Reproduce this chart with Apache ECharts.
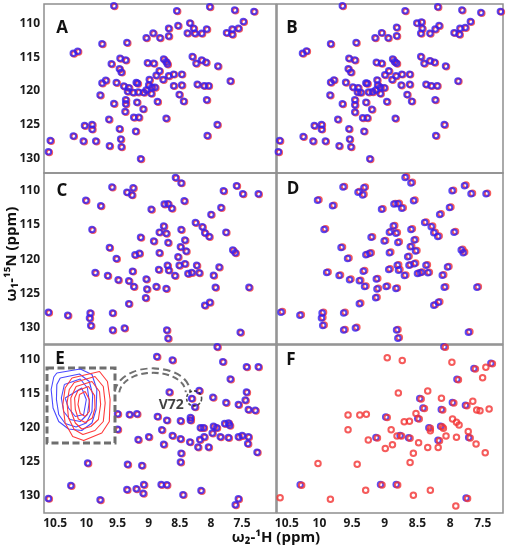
<!DOCTYPE html>
<html><head><meta charset="utf-8">
<script src="https://cdn.jsdelivr.net/npm/echarts@6/dist/echarts.min.js"></script>
<style>html,body{margin:0;padding:0;background:#fff}#c{width:508px;height:550px}</style>
</head><body><div id="c"></div>
<script>
// ---------- tick labels ----------
const xTicks = [10.5, 10, 9.5, 9, 8.5, 8, 7.5];
const yTicks = [110, 115, 120, 125, 130];
const panelLetters = ['A', 'B', 'C', 'D', 'E', 'F'];

// ---------- peak lists [1H ppm, 15N ppm] ----------
const peaksA = [[9.56,107.35],[8.55,108.1],[8.02,107.5],[7.62,108.0],[7.31,108.2],[9.35,112.8],[9.04,112.1],[8.93,111.4],[8.82,112.1],[8.68,110.7],[8.68,111.85],[8.53,110.3],[8.38,111.4],[8.34,109.9],[8.28,110.7],[8.26,111.45],[8.15,111.45],[8.07,110.8],[7.75,111.35],[7.66,110.8],[7.66,111.6],[7.56,110.7],[7.48,109.7],[10.21,114.4],[10.14,114.1],[9.75,113.0],[9.60,115.95],[9.46,115.15],[9.37,115.4],[9.47,116.7],[9.44,117.2],[9.02,115.8],[8.92,115.9],[8.76,115.25],[8.72,115.65],[8.70,116.0],[8.83,117.0],[8.88,117.65],[8.77,118.3],[8.68,117.75],[8.60,117.5],[8.47,117.5],[8.30,114.9],[8.24,115.9],[8.15,115.4],[8.08,115.75],[7.89,116.3],[9.75,118.8],[9.69,118.4],[9.52,118.75],[9.40,119.25],[9.32,119.5],[9.20,118.75],[9.18,118.85],[9.34,120.05],[9.25,120.2],[9.17,120.15],[9.08,120.2],[9.04,119.85],[9.00,119.1],[8.99,118.3],[8.95,119.45],[8.90,119.45],[8.96,120.35],[8.86,121.55],[9.78,120.6],[9.56,121.85],[9.37,121.3],[9.37,121.9],[9.19,121.65],[8.47,119.1],[8.60,119.2],[8.51,120.5],[8.44,121.5],[8.22,119.0],[8.11,119.2],[8.04,119.2],[8.07,121.3],[7.69,118.5],[9.38,123.05],[9.09,122.65],[9.24,123.9],[9.16,123.9],[8.72,124.05],[9.64,124.2],[10.03,125.1],[9.91,124.95],[9.91,125.65],[9.21,125.95],[9.47,125.6],[9.45,127.1],[10.21,126.65],[10.05,127.4],[9.85,127.4],[9.63,128.1],[9.44,128.25],[8.06,126.6],[7.90,124.95],[9.13,130.05],[10.58,127.35],[10.61,129.0]];

const peaksB = [[9.65,107.35],[8.69,108.1],[8.19,107.5],[7.82,108.0],[7.53,108.35],[7.23,108.2],[7.69,109.7],[8.51,109.9],[8.44,109.75],[8.43,110.7],[8.45,111.45],[8.31,111.45],[8.23,110.8],[8.17,110.3],[7.94,111.35],[7.85,110.7],[7.86,111.6],[7.77,110.6],[8.82,110.55],[8.82,111.8],[9.05,111.35],[9.15,112.1],[8.95,112.1],[9.44,112.8],[9.83,113.0],[10.26,114.4],[10.20,114.05],[9.55,115.15],[9.46,115.4],[9.56,116.7],[9.52,117.2],[9.13,115.75],[9.05,115.9],[8.88,115.25],[8.85,115.65],[8.82,115.9],[8.94,117.0],[9.00,117.6],[8.89,118.3],[8.83,117.75],[8.74,117.5],[8.62,117.5],[8.45,114.9],[8.40,115.9],[8.31,115.5],[8.24,115.75],[8.07,116.3],[9.83,118.7],[9.78,118.35],[9.60,118.7],[9.49,119.4],[9.41,119.5],[9.29,118.8],[9.27,118.85],[9.12,118.35],[9.42,120.15],[9.37,120.2],[9.25,120.15],[9.19,120.1],[9.14,119.85],[9.11,119.1],[9.07,119.45],[9.01,119.5],[9.07,120.35],[8.97,121.55],[9.84,120.6],[9.65,121.9],[9.46,121.3],[9.46,122.05],[9.29,121.65],[8.75,119.1],[8.62,119.0],[8.66,120.5],[8.59,121.5],[8.37,119.0],[8.29,119.2],[8.20,119.2],[8.23,121.3],[7.88,118.5],[9.46,123.1],[9.20,122.7],[9.34,123.95],[9.27,123.95],[8.84,124.05],[9.72,124.2],[10.08,125.1],[9.97,124.95],[9.97,125.65],[9.32,125.95],[9.55,125.6],[9.54,127.1],[10.25,126.75],[10.10,127.4],[9.91,127.4],[9.70,128.1],[9.52,128.25],[8.22,126.6],[8.09,124.95],[9.23,130.05],[10.61,127.35],[10.63,129.0]];

const peaksC = [[8.57,108.05],[8.48,108.85],[9.59,109.45],[9.35,110.2],[9.25,109.55],[9.27,110.6],[10.01,111.4],[9.77,112.2],[8.75,111.95],[8.69,111.9],[8.63,112.55],[8.43,111.45],[8.96,112.7],[7.80,110.0],[7.59,109.25],[7.49,110.45],[7.24,110.45],[7.84,112.45],[8.00,113.45],[8.76,115.15],[8.83,116.05],[8.72,116.2],[8.48,115.65],[8.25,114.65],[8.14,115.25],[8.10,116.15],[8.03,116.7],[7.76,116.05],[9.91,115.65],[9.13,116.8],[8.92,117.35],[8.69,117.55],[8.42,117.2],[9.63,118.3],[9.52,119.9],[9.22,119.35],[9.15,119.15],[8.83,119.05],[8.49,118.2],[8.40,118.8],[8.53,119.65],[8.51,120.9],[8.42,120.65],[8.23,120.9],[7.65,118.65],[7.61,119.05],[7.87,121.15],[8.84,121.5],[8.68,121.6],[8.70,120.9],[8.58,122.4],[8.37,122.1],[8.31,121.95],[8.19,122.0],[7.96,122.35],[9.86,121.95],[9.66,122.4],[9.49,123.0],[9.32,123.15],[9.26,121.75],[9.24,124.0],[9.04,122.9],[9.03,124.35],[8.88,124.0],[8.72,124.3],[7.93,124.1],[7.39,124.1],[9.05,125.65],[9.32,126.5],[8.10,126.75],[8.02,126.3],[10.61,127.75],[10.30,128.2],[9.94,127.85],[9.58,127.85],[9.95,128.6],[9.93,129.7],[9.58,130.35],[9.39,130.05],[8.71,130.35],[8.69,131.55],[7.53,130.7]];

const peaksD = [[8.69,108.05],[8.60,108.85],[9.64,109.45],[9.41,110.2],[9.32,109.55],[9.34,110.6],[10.03,111.4],[9.80,112.2],[8.86,111.95],[8.80,111.9],[8.74,112.55],[8.56,111.45],[9.05,112.7],[7.97,110.0],[7.78,109.25],[7.68,110.45],[7.45,110.45],[8.01,112.45],[8.16,113.45],[8.87,115.15],[8.93,116.05],[8.83,116.2],[8.60,115.65],[8.39,114.65],[8.29,115.25],[8.25,116.15],[8.19,116.7],[7.94,116.05],[9.93,115.65],[9.21,116.8],[9.01,117.35],[8.80,117.55],[8.55,117.2],[9.67,118.3],[9.57,119.9],[9.29,119.35],[9.23,119.15],[8.93,119.05],[8.61,118.2],[8.53,118.8],[8.65,119.65],[8.63,120.9],[8.55,120.65],[8.37,120.9],[7.83,118.65],[7.80,119.05],[8.04,121.15],[8.94,121.5],[8.79,121.6],[8.81,120.9],[8.70,122.4],[8.50,122.1],[8.45,121.95],[8.34,122.0],[8.12,122.35],[9.89,121.95],[9.70,122.4],[9.54,123.0],[9.39,123.15],[9.33,121.75],[9.31,124.0],[9.13,122.9],[9.12,124.35],[8.98,124.0],[8.83,124.3],[8.09,124.1],[7.59,124.1],[9.14,125.65],[9.39,126.5],[8.25,126.75],[8.18,126.3],[10.59,127.75],[10.30,128.2],[9.96,127.85],[9.63,127.85],[9.97,128.6],[9.95,129.7],[9.63,130.35],[9.45,130.05],[8.82,130.35],[8.80,131.55],[7.72,130.7]];

const peaksE = [[8.87,109.5],[8.62,110.0],[7.90,108.05],[7.81,110.25],[7.43,111.0],[7.24,111.0],[8.67,114.7],[8.19,114.5],[8.31,115.65],[7.97,115.5],[8.26,116.9],[8.33,118.45],[8.33,118.85],[7.69,112.8],[7.43,114.7],[7.76,116.25],[7.56,116.55],[7.45,115.9],[7.40,117.3],[7.29,117.4],[9.50,117.9],[9.31,118.0],[9.19,117.9],[8.86,118.3],[8.71,118.85],[8.49,118.95],[8.17,119.95],[8.12,119.95],[7.96,119.75],[7.91,119.95],[7.78,119.35],[7.72,119.25],[7.70,119.6],[7.98,120.75],[9.50,120.2],[8.79,120.25],[8.62,121.1],[9.00,121.3],[9.17,121.7],[8.49,121.6],[8.34,122.05],[8.18,121.7],[8.11,121.3],[7.85,121.3],[7.72,121.4],[7.56,121.3],[7.50,121.1],[7.40,121.3],[8.76,122.4],[8.21,122.8],[8.04,122.8],[7.41,122.3],[7.26,123.55],[8.48,123.7],[8.49,125.0],[9.98,125.15],[9.34,125.35],[9.11,125.5],[10.25,128.45],[9.08,128.3],[8.80,128.3],[8.71,128.35],[9.35,129.05],[9.20,128.95],[9.09,129.6],[8.45,129.8],[8.16,129.2],[9.78,130.55],[7.56,130.4],[7.61,131.3],[10.61,130.35]];

const peaksFred = [[8.08,108.05],[8.97,109.6],[8.74,110.0],[7.98,110.25],[7.88,112.85],[7.62,111.25],[7.46,111.0],[7.36,110.5],[7.51,112.55],[8.80,114.8],[8.35,114.5],[8.45,115.65],[8.14,115.55],[7.95,116.25],[7.75,116.65],[7.66,116.0],[7.60,117.3],[7.55,117.4],[7.41,117.15],[9.57,118.0],[9.39,118.0],[9.29,117.9],[8.97,118.4],[8.53,117.8],[8.40,117.05],[8.12,117.3],[8.48,118.6],[8.63,118.95],[8.71,119.0],[8.91,120.2],[9.57,120.2],[8.31,119.95],[8.31,120.35],[8.13,119.75],[8.11,119.95],[7.97,118.6],[7.91,119.1],[7.87,119.5],[8.07,121.1],[7.91,121.3],[7.73,120.45],[7.70,121.4],[8.82,121.1],[8.75,121.1],[8.62,121.45],[8.49,122.1],[8.35,122.8],[8.19,122.8],[8.17,121.8],[9.00,122.95],[8.89,122.4],[9.26,121.7],[9.12,121.4],[8.57,123.65],[7.61,122.3],[7.47,123.55],[8.62,125.0],[10.03,125.15],[9.43,125.25],[10.28,128.35],[9.05,128.3],[8.81,128.3],[9.30,129.1],[8.31,129.1],[8.57,129.8],[7.92,131.4],[7.74,130.3],[10.61,130.2],[9.84,130.4]];

const peaksFblue = [[8.08,108.05],[7.88,112.85],[7.62,111.25],[7.36,110.5],[8.45,115.65],[7.95,116.25],[7.75,116.65],[8.97,118.4],[8.40,117.05],[8.12,117.3],[8.48,118.6],[8.31,119.95],[8.13,119.75],[7.70,121.4],[8.75,121.1],[8.62,121.45],[8.17,121.8],[9.12,121.4],[10.28,128.35],[9.05,128.3],[8.81,128.3],[7.74,130.3]];

// V72 highlighted peak in panel E
const v72 = [[8.27, 115.65]];

// ---------- inset contours of V72 (ppm) ----------
const contoursBlue = [
  [[8.334,115.00],[8.272,114.92],[8.241,115.03],[8.228,115.33],[8.230,115.73],[8.241,116.00],[8.268,116.15],[8.303,116.12],[8.329,115.97],[8.344,115.70],[8.349,115.33],[8.342,115.08],[8.334,115.00]],
  [[8.325,115.10],[8.274,115.02],[8.248,115.17],[8.239,115.43],[8.241,115.77],[8.256,116.00],[8.283,116.08],[8.312,116.01],[8.329,115.83],[8.335,115.53],[8.334,115.23],[8.325,115.10]],
  [[8.314,115.23],[8.272,115.12],[8.253,115.30],[8.248,115.57],[8.253,115.83],[8.272,115.97],[8.299,115.93],[8.316,115.77],[8.322,115.50],[8.314,115.23]],
  [[8.312,115.50],[8.268,115.30],[8.256,115.53],[8.263,115.83],[8.285,115.87],[8.303,115.70],[8.312,115.50]]
];
const contoursRed = [
  [[8.294,115.10],[8.221,114.97],[8.200,115.17],[8.193,115.53],[8.195,115.97],[8.215,116.20],[8.263,116.35],[8.292,116.27],[8.312,116.00],[8.318,115.63],[8.312,115.30],[8.294,115.10]],
  [[8.288,115.19],[8.233,115.07],[8.211,115.27],[8.206,115.60],[8.211,115.97],[8.233,116.15],[8.265,116.23],[8.288,116.13],[8.303,115.90],[8.307,115.60],[8.301,115.33],[8.288,115.19]],
  [[8.283,115.27],[8.241,115.17],[8.221,115.37],[8.218,115.63],[8.224,115.93],[8.244,116.07],[8.268,116.12],[8.285,116.00],[8.296,115.77],[8.297,115.50],[8.283,115.27]],
  [[8.278,115.35],[8.250,115.27],[8.234,115.45],[8.233,115.70],[8.240,115.90],[8.259,115.99],[8.277,115.92],[8.285,115.73],[8.287,115.50],[8.278,115.35]],
  [[8.274,115.43],[8.259,115.37],[8.248,115.53],[8.248,115.77],[8.259,115.87],[8.272,115.81],[8.278,115.63],[8.274,115.43]]
];

// ---------- layout ----------
const FONT = '"Open Sans", "DejaVu Sans", sans-serif';
const BLUE = '#3520f0';
const RED = '#f23232';
const cols = [
  {left: 44, width: 232, xr: [6.955, 10.68]},
  {left: 277, width: 226, xr: [7.19, 10.65]}
];
const rows = [
  {top: 4, height: 169, yr: [107.1, 132.15]},
  {top: 173, height: 171, yr: [107.4, 132.4]},
  {top: 345, height: 168, yr: [107.8, 132.5]}
];
const panelData = [
  {red: peaksA, blue: peaksA},
  {red: peaksB, blue: peaksB},
  {red: peaksC, blue: peaksC},
  {red: peaksD, blue: peaksD},
  {red: peaksE, blue: peaksE},
  {red: peaksFred, blue: peaksFblue, redOnTop: true}
];

const grid = [], xAxis = [], yAxis = [], series = [];
for (let i = 0; i < 6; i++) {
  const c = cols[i % 2], r = rows[Math.floor(i / 2)];
  const bottomRow = Math.floor(i / 2) === 2, leftCol = i % 2 === 0;
  grid.push({left: c.left, top: r.top, width: c.width, height: r.height, show: true,
    borderColor: '#8f8f8f', borderWidth: 1.5, backgroundColor: 'transparent', containLabel: false});
  xAxis.push({gridIndex: i, type: 'value', inverse: true, min: c.xr[0], max: c.xr[1],
    axisLine: {show: false}, splitLine: {show: false},
    axisTick: {show: false},
    axisLabel: {show: bottomRow, customValues: xTicks, formatter: v => String(v), margin: 5,
      fontFamily: FONT, fontWeight: 'bold', fontSize: 12, color: '#1a1a1a'}});
  yAxis.push({gridIndex: i, type: 'value', inverse: true, min: r.yr[0], max: r.yr[1],
    axisLine: {show: false}, splitLine: {show: false},
    axisTick: {show: false},
    axisLabel: {show: leftCol, customValues: yTicks, margin: 4,
      fontFamily: FONT, fontWeight: 'bold', fontSize: 12, color: '#1a1a1a'}});
  const pd = panelData[i];
  const mk = (data, color, off, z) => ({type: 'scatter', xAxisIndex: i, yAxisIndex: i, data,
    symbol: 'circle', symbolSize: 5.5, symbolOffset: off, silent: true, z,
    itemStyle: {color: 'rgba(255,255,255,0)', borderColor: color, borderWidth: 2}});
  if (pd.redOnTop) {
    series.push(mk(pd.blue, BLUE, [-1, 0], 2));
    series.push(mk(pd.red, RED, [0.5, 0.5], 3));
  } else {
    series.push(mk(pd.red, RED, i === 3 ? [1.5, -0.6] : [1, 0.7], 2));
    series.push(mk(pd.blue, BLUE, [0, 0], 3));
  }
}
// V72 dashed circle on panel E
series.push({type: 'scatter', xAxisIndex: 4, yAxisIndex: 4, data: v72, symbol: 'circle', symbolSize: 15,
  silent: true, z: 5,
  itemStyle: {color: 'rgba(255,255,255,0)', borderColor: '#222', borderWidth: 1.6, borderType: [3, 2]},
  label: {show: true, formatter: 'V72', position: 'left', distance: 2, offset: [0, 7],
    fontFamily: FONT, fontWeight: 'bold', fontSize: 14, color: '#111'}});

// inset grid
grid.push({left: 47, top: 368, width: 68, height: 75, show: false});
xAxis.push({gridIndex: 6, type: 'value', inverse: true, min: 8.18, max: 8.36, show: false});
yAxis.push({gridIndex: 6, type: 'value', inverse: true, min: 114.9, max: 116.4, show: false});
contoursBlue.forEach(d => series.push({type: 'line', xAxisIndex: 6, yAxisIndex: 6, data: d,
  showSymbol: false, symbol: 'none', silent: true, z: 6, lineStyle: {color: '#4a4aff', width: 1.1}}));
contoursRed.forEach(d => series.push({type: 'line', xAxisIndex: 6, yAxisIndex: 6, data: d,
  showSymbol: false, symbol: 'none', silent: true, z: 7, lineStyle: {color: '#ff3a3a', width: 1.1}}));

// ---------- decorations ----------
const letterPos = [[62, 28], [292, 28], [62, 191], [293, 189], [60, 359], [291, 360]];
const graphic = letterPos.map((p, k) => ({type: 'text', x: p[0], y: p[1], z: 10,
  style: {text: panelLetters[k], font: 'bold 17px ' + FONT, fill: '#111', align: 'center', verticalAlign: 'middle'}}));
graphic.push({type: 'text', x: 276, y: 538, z: 10,
  style: {text: 'ω₂-¹H (ppm)', font: 'bold 15px ' + FONT, fill: '#111', align: 'center', verticalAlign: 'middle'}});
graphic.push({type: 'text', x: 12, y: 254, rotation: Math.PI / 2, z: 10,
  style: {text: 'ω₁-¹⁵N (ppm)', font: 'bold 15px ' + FONT, fill: '#111', align: 'center', verticalAlign: 'middle'}});
graphic.push({type: 'rect', z: 4, shape: {x: 47, y: 368, width: 68, height: 75},
  style: {fill: 'none', stroke: '#6e6e6e', lineWidth: 3, lineDash: [7, 3.5]}});
const curve = {x1: 117, y1: 392, cpx1: 122, cpy1: 363, cpx2: 186, cpy2: 364, x2: 188, y2: 392};
graphic.push({type: 'bezierCurve', z: 4, shape: curve, style: {fill: 'none', stroke: '#707070', lineWidth: 6.5, lineDash: [7, 4]}});
graphic.push({type: 'bezierCurve', z: 5, shape: curve, style: {fill: 'none', stroke: '#ffffff', lineWidth: 2.5}});

const chart = echarts.init(document.getElementById('c'), null, {renderer: 'canvas'});
chart.setOption({animation: false, backgroundColor: '#ffffff', grid, xAxis, yAxis, series, graphic});
</script>
</body></html>
